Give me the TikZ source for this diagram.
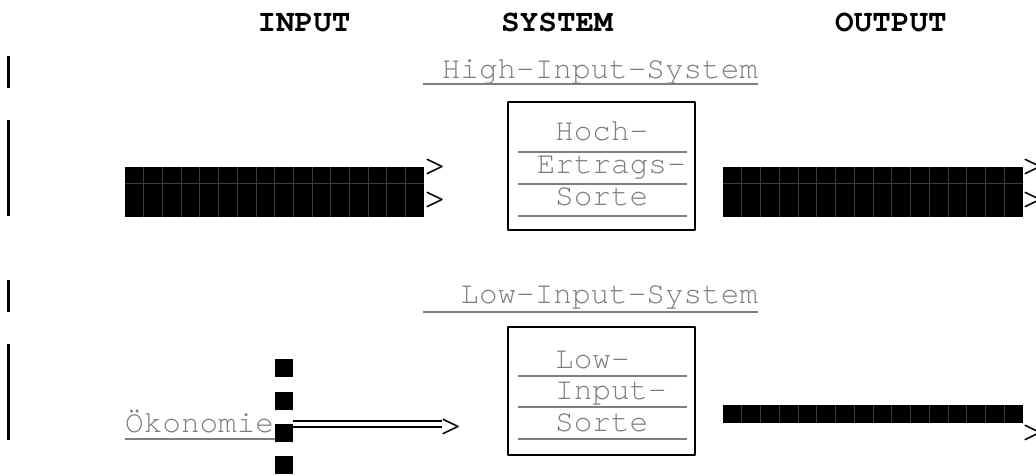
\documentclass[tikz,border=0pt]{standalone}
\usepackage{fontspec}
\setmainfont{texgyrecursor}[Extension=.otf, UprightFont=*-regular, BoldFont=*-bold]
\usetikzlibrary{positioning}
\definecolor{txtgray}{HTML}{7E7E7E}
\definecolor{seam}{HTML}{3C3C3C}
% black bar made of block characters: x1, x2, y1, y2, columns
\newcommand\blockbar[5]{%
  \fill[black] (#1,#3) rectangle (#2,#4);
  \foreach \i in {1,...,#5}
    \draw[seam, line width=0.6pt] ({#1+\i*(#2-#1)/(#5+1)},#3) -- ({#1+\i*(#2-#1)/(#5+1)},#4);
}
\begin{document}
\begin{tikzpicture}[x=1pt, y=-1pt, font=\fontsize{31}{32}\selectfont, line join=round,
    lbl/.style={anchor=base west, inner sep=0pt, text=txtgray},
    head/.style={anchor=base, inner sep=0pt, font=\fontsize{31}{32}\selectfont\bfseries},
    tip/.style={anchor=base west, inner sep=0pt, font=\fontsize{42}{42}\selectfont},
    uline/.style={draw=txtgray, line width=2pt},
    sortbox/.style={draw, line width=2.5pt, minimum width=187pt, minimum height=128pt, inner sep=0pt},
    blocksq/.style={fill=black, minimum size=18pt, inner sep=0pt}]
\useasboundingbox (0,0) rectangle (1036,475);

% headings
\node[head] (input) at (304,31) {INPUT};
\node[head] (system) at (557,31) {SYSTEM};
\node[head] (output) at (891,31) {OUTPUT};

% margin marks
\draw[line width=3pt] (8,56) -- (8,88);
\draw[line width=3pt] (8,120) -- (8,216);
\draw[line width=3pt] (8,280) -- (8,312);
\draw[line width=3pt] (8,344) -- (8,440);

% high input system
\node[lbl] (hightitle) at (441.6,78) {High-Input-System};
\draw[uline] (423,84) -- (758,84);
\node[sortbox] (hybox) at (601.5,166) {};
\node[lbl] (hoch) at (555,140) {Hoch-};
\node[lbl] (ertrag) at (536.6,173) {Ertrags-};
\node[lbl] (sorteh) at (555,205) {Sorte};
\foreach \y in {152,184,216}
  \draw[uline] (518,\y) -- (687,\y);

\blockbar{125}{424}{167}{217}{15}
\draw[seam, line width=0.6pt] (125,183) -- (424,183);
\node[tip] (intipa) at (422,177) {>};
\node[tip] (intipb) at (422,210) {>};

\blockbar{723}{1023}{167}{217}{15}
\draw[seam, line width=0.6pt] (723,183) -- (1023,183);
\node[tip] (outtipa) at (1020,177) {>};
\node[tip] (outtipb) at (1020,210) {>};

% low input system
\node[lbl] (lowtitle) at (460.2,303) {Low-Input-System};
\draw[uline] (423,312) -- (758,312);
\node[sortbox] (lobox) at (601.5,391) {};
\node[lbl] (low) at (555,368) {Low-};
\node[lbl] (inp) at (555,399) {Input-};
\node[lbl] (sortel) at (555,431) {Sorte};
\foreach \y in {376,407,439}
  \draw[uline] (518,\y) -- (687,\y);

\node[lbl] (oekon) at (125,432) {Ökonomie};
\draw[uline] (125,439) -- (275,439);
\node[blocksq] (sqa) at (284,368) {};
\node[blocksq] (sqb) at (284,401) {};
\node[blocksq] (sqc) at (284,433) {};
\node[blocksq] (sqd) at (284,465) {};
\node[tip] (lowtip) at (438,437) {>};
\coordinate (dstart) at (sqc.east |- 0,424);
\draw[line width=2pt, double distance=4pt] (dstart) -- ([xshift=4pt]lowtip.west |- dstart);

\blockbar{723}{1023}{405}{423}{15}
\node[tip] (lowout) at (1020,443) {>};
\end{tikzpicture}
\end{document}
